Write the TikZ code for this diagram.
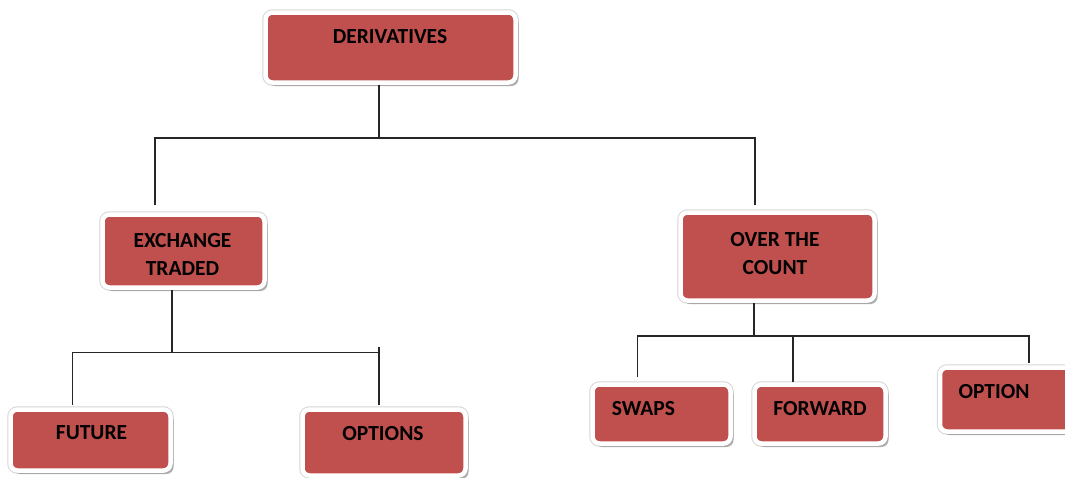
\documentclass[tikz,border=0pt]{standalone}
\usepackage{fontspec}
\setmainfont{Carlito}
\usetikzlibrary{shadows}
\tikzset{
  x=1pt, y=-1pt,
  box/.style={shape=rectangle, rounded corners=7pt, fill=boxred, draw=white, line width=4.5pt,
    inner sep=0pt,
    preaction={draw=black!16, line width=6.5pt},
    drop shadow={shadow xshift=3pt, shadow yshift=-3.5pt, fill=black!40, opacity=0.75, rounded corners=7pt}},
  txt/.style={font=\fontsize{21.5}{28}\selectfont\bfseries, inner sep=0pt, align=center, text=black},
  conn/.style={draw=black!85, line width=1.1pt}
}
\definecolor{boxred}{HTML}{C0504D}
\begin{document}
\begin{tikzpicture}
\useasboundingbox (0,0) rectangle (1065,477);
\fill[white] (0,0) rectangle (1065,477);
% boxes
\node[box, minimum width=250pt, minimum height=70pt] (der) at (390.5,47.5) {};
\node[box, minimum width=162pt, minimum height=73pt] (exch) at (183.5,251) {};
\node[box, minimum width=194pt, minimum height=88pt] (otc) at (777.5,256.5) {};
\node[box, minimum width=160pt, minimum height=61pt] (fut) at (90.5,440) {};
\node[box, minimum width=163pt, minimum height=66pt] (opts) at (384,442.5) {};
\node[box, minimum width=138pt, minimum height=59pt] (swap) at (661.5,414) {};
\node[box, minimum width=131pt, minimum height=59pt] (fwd) at (820,414) {};
\node[box, minimum width=140pt, minimum height=64pt] (opt) at (1010,399.5) {};
% texts
\node[txt] (dert) at (390,37) {DERIVATIVES};
\node[txt] (excht) at (182.5,254) {EXCHANGE\\TRADED};
\node[txt] (otct) at (775,254) {OVER THE\\COUNT};
\node[txt] (futt) at (91.5,432.5) {FUTURE};
\node[txt] (optst) at (383,434) {OPTIONS};
\node[txt] (swapt) at (643.5,409) {SWAPS};
\node[txt] (fwdt) at (820,409) {FORWARD};
\node[txt] (optt) at (994,392) {OPTION};
% junction coordinates
\coordinate (j1) at (379,138);
\coordinate (j1l) at (155,138);
\coordinate (j1r) at (755,138);
\coordinate (e1) at (155,205);
\coordinate (e2) at (755,205);
\coordinate (j2) at (172,352.5);
\coordinate (j2l) at (72.5,352.5);
\coordinate (j2r) at (379,352.5);
\coordinate (j2t) at (379,347);
\coordinate (f1) at (72.5,405);
\coordinate (f2) at (379,405);
\coordinate (j3) at (754,336);
\coordinate (j3l) at (637.5,336);
\coordinate (j3m) at (793,336);
\coordinate (j3r) at (1029,336);
\coordinate (s1) at (637.5,377);
\coordinate (s2) at (793,382);
\coordinate (s3) at (1029,363);
% connectors
\draw[conn] (der.south -| j1) -- (j1);
\draw[conn] (e1) -- (j1l) -- (j1r) -- (e2);
\draw[conn] (exch.south -| j2) -- (j2);
\draw[conn] (f1) -- (j2l) -- (j2r);
\draw[conn] (j2t) -- (f2);
\draw[conn] (otc.south -| j3) -- (j3);
\draw[conn] (s1) -- (j3l) -- (j3r) -- (s3);
\draw[conn] (j3m) -- (s2);
\end{tikzpicture}
\end{document}
